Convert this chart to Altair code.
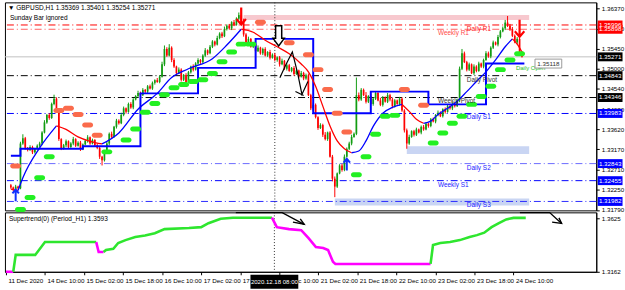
import altair as alt
import pandas as pd

# ---------------- data ----------------
first_open = 1.3235
closes = [
    1.3230, 1.3226, 1.3232, 1.3228, 1.3330, 1.3342, 1.3320, 1.3315, 1.3322, 1.3310,
    1.3318, 1.3325, 1.3330, 1.3355, 1.3378, 1.3395, 1.3388, 1.3420, 1.3432, 1.3405,
    1.3340, 1.3318, 1.3326, 1.3335, 1.3322, 1.3330, 1.3340, 1.3325, 1.3332, 1.3318,
    1.3328, 1.3336, 1.3344, 1.3330, 1.3338, 1.3326, 1.3320, 1.3300, 1.3292, 1.3310,
    1.3330, 1.3352, 1.3345, 1.3368, 1.3382, 1.3376, 1.3395, 1.3410, 1.3402, 1.3420,
    1.3412, 1.3430, 1.3438, 1.3445, 1.3440, 1.3452, 1.3448, 1.3460, 1.3455, 1.3468,
    1.3474, 1.3470, 1.3482, 1.3510, 1.3545, 1.3530, 1.3548, 1.3520, 1.3505, 1.3490,
    1.3498, 1.3475, 1.3486, 1.3470, 1.3492, 1.3505, 1.3498, 1.3512, 1.3520, 1.3515,
    1.3530, 1.3542, 1.3535, 1.3550, 1.3562, 1.3555, 1.3570, 1.3580, 1.3574, 1.3590,
    1.3598, 1.3592, 1.3606, 1.3600, 1.3614, 1.3622, 1.3610, 1.3578, 1.3560, 1.3568,
    1.3550, 1.3556, 1.3540, 1.3548, 1.3535, 1.3545, 1.3530, 1.3538, 1.3525, 1.3532,
    1.3520, 1.3526, 1.3510, 1.3518, 1.3500, 1.3508, 1.3495, 1.3502, 1.3488, 1.3496,
    1.3482, 1.3490, 1.3478, 1.3485, 1.3440, 1.3410, 1.3418, 1.3390, 1.3365, 1.3372,
    1.3350, 1.3340, 1.3355, 1.3300, 1.3250, 1.3232, 1.3262, 1.3280, 1.3270, 1.3300,
    1.3318, 1.3330, 1.3345, 1.3352, 1.3440, 1.3430, 1.3452, 1.3440, 1.3425, 1.3438,
    1.3420, 1.3432, 1.3445, 1.3428, 1.3418, 1.3435, 1.3425, 1.3440, 1.3430, 1.3415,
    1.3428, 1.3420, 1.3432, 1.3405, 1.3360, 1.3330, 1.3345, 1.3358, 1.3350, 1.3362,
    1.3355, 1.3368, 1.3362, 1.3375, 1.3370, 1.3385, 1.3380, 1.3395, 1.3400, 1.3392,
    1.3408, 1.3402, 1.3415, 1.3410, 1.3420, 1.3415, 1.3428, 1.3500, 1.3535, 1.3515,
    1.3498, 1.3510, 1.3490, 1.3505, 1.3495, 1.3512, 1.3505, 1.3520, 1.3535, 1.3528,
    1.3548, 1.3560, 1.3555, 1.3572, 1.3585, 1.3592, 1.3605, 1.3598, 1.3590, 1.3575,
    1.3560, 1.3568, 1.3537, 1.35271,
]
up_pips = [
    3, 2, 4, 2, 4, 9, 3, 2, 4, 3, 2, 3, 4, 3, 5, 2, 4, 3, 9, 3,
    4, 2, 3, 4, 2, 3, 5, 2, 3, 4, 2, 3, 5, 2, 3, 2, 4, 3, 2, 3,
    4, 3, 5, 2, 4, 3, 5, 4, 2, 3, 4, 3, 2, 5, 3, 4, 2, 3, 4, 3,
    2, 5, 3, 6, 8, 4, 8, 3, 4, 2, 5, 3, 2, 4, 3, 2, 5, 3, 4, 2,
    3, 5, 2, 4, 3, 2, 5, 3, 4, 6, 3, 4, 2, 5, 3, 6, 16, 4, 3, 5,
    2, 4, 3, 5, 2, 3, 4, 2, 5, 3, 4, 2, 3, 5, 2, 4, 3, 2, 4, 3,
    2, 5, 3, 4, 4, 3, 5, 3, 2, 4, 3, 6, 2, 3, 4, 5, 2, 3, 4, 5,
    3, 4, 5, 3, 40, 6, 4, 3, 7, 2, 5, 3, 4, 2, 6, 3, 2, 5, 3, 4,
    3, 2, 4, 3, 3, 4, 5, 2, 3, 4, 2, 3, 4, 3, 2, 3, 4, 2, 5, 3,
    2, 4, 3, 2, 4, 3, 4, 5, 10, 4, 3, 4, 2, 5, 3, 4, 2, 3, 5, 4,
    3, 4, 2, 5, 3, 4, 6, 15, 4, 5, 3, 4, 3, 3,
]
dn_pips = [
    3, 4, 2, 3, 2, 3, 4, 3, 2, 4, 3, 2, 3, 4, 2, 3, 4, 2, 3, 5,
    4, 3, 2, 4, 3, 2, 4, 3, 2, 5, 3, 2, 4, 3, 2, 4, 3, 5, 12, 3,
    2, 4, 3, 2, 4, 3, 2, 3, 4, 2, 3, 4, 2, 3, 4, 2, 3, 4, 2, 3,
    4, 2, 3, 2, 4, 3, 2, 5, 3, 4, 2, 4, 3, 5, 2, 3, 4, 2, 3, 4,
    2, 3, 4, 2, 3, 4, 2, 3, 4, 2, 3, 2, 4, 3, 2, 3, 4, 5, 3, 4,
    2, 3, 4, 2, 3, 4, 2, 3, 4, 2, 3, 4, 5, 2, 3, 4, 2, 3, 4, 2,
    3, 2, 4, 3, 2, 4, 6, 3, 4, 2, 5, 3, 4, 2, 6, 24, 3, 2, 4, 3,
    2, 3, 4, 2, 3, 4, 3, 2, 4, 3, 2, 4, 3, 2, 3, 4, 2, 3, 4, 5,
    3, 2, 4, 3, 5, 12, 3, 2, 4, 3, 2, 4, 3, 2, 4, 3, 2, 4, 3, 2,
    3, 4, 2, 3, 4, 3, 2, 4, 3, 2, 4, 3, 2, 4, 3, 2, 3, 4, 2, 3,
    4, 3, 2, 4, 3, 2, 4, 3, 4, 3, 2, 4, 3, 2,
]
last_ohlc = [1.35369, 1.35401, 1.35254, 1.35271]

# moving average (colored by slope): segments of (bar, value)
ma_segments = [
    ("dn", [(0, 1.3226), (3, 1.3223)]),
    ("up", [(3, 1.3223), (5, 1.3252), (12, 1.3320), (19, 1.3370)]),
    ("dn", [(19, 1.3370), (23, 1.3362), (28, 1.3345), (33, 1.3335), (38, 1.3329)]),
    ("up", [(38, 1.3329), (45, 1.3354), (53, 1.3408), (61, 1.3444), (67, 1.3480),
            (74, 1.3500), (84, 1.3523), (90, 1.3554), (96, 1.3590)]),
    ("dn", [(96, 1.3590), (101, 1.3583), (106, 1.3565), (111, 1.3550), (116, 1.3534),
            (121, 1.3511), (124, 1.3493), (127, 1.3460), (130, 1.3415), (133, 1.3370),
            (136, 1.3336), (139, 1.3318), (142, 1.3309)]),
    ("up", [(142, 1.3309), (145, 1.3313), (148, 1.3336), (151, 1.3369), (155, 1.3399),
            (159, 1.3412), (163, 1.3419)]),
    ("dn", [(163, 1.3419), (166, 1.3403), (169, 1.3385), (172, 1.3376)]),
    ("up", [(172, 1.3376), (175, 1.3381), (178, 1.3396), (182, 1.3410), (186, 1.3426),
            (190, 1.3448), (194, 1.3471), (198, 1.3493), (202, 1.3520), (206, 1.3550),
            (209, 1.3568)]),
    ("dn", [(209, 1.3568), (211, 1.3556), (213, 1.3538)]),
]

# daily step line
step_idx = [0, 4, 30, 54, 78, 102, 126, 150, 174, 198, 214]
step_val = [1.3302, 1.3318, 1.3324, 1.3444, 1.3502, 1.3568, 1.3399, 1.3448, 1.3419, 1.35118, 1.35118]

# supertrend dots on price chart
st_up_idx = [4, 8, 12, 16, 40, 48, 52, 56, 60, 64, 68, 72, 76, 80, 84, 88, 92, 96, 100,
             144, 148, 152, 156, 160, 176, 180, 184, 188, 192, 196, 200, 204, 208, 212]
st_up_val = [1.3180, 1.3207, 1.3252, 1.3300, 1.3311, 1.3338, 1.3363, 1.3401, 1.3421, 1.3441,
             1.3457, 1.3464, 1.3471, 1.3475, 1.3489, 1.3516, 1.3538, 1.3556, 1.3556,
             1.3259, 1.3300, 1.3351, 1.3392, 1.3394, 1.3331, 1.3354, 1.3376, 1.3392,
             1.3419, 1.3437, 1.3460, 1.3498, 1.3520, 1.3534]
st_dn_idx = [2, 20, 24, 28, 32, 36, 104, 116, 124, 128, 132, 136, 140, 164, 172]
st_dn_val = [1.3279, 1.3405, 1.3410, 1.3396, 1.3372, 1.3349, 1.3606, 1.3559, 1.3532,
             1.3498, 1.3453, 1.3399, 1.3356, 1.3453, 1.3417]

# pivot levels
level_names = ["Daily R1", "Weekly R1", "Daily Pivot", "Weekly Pivot",
               "Daily S1", "Daily S2", "Weekly S1", "Daily S3"]
level_prices = [1.35996, 1.35898, 1.34843, 1.34346, 1.33983, 1.32843, 1.32455, 1.31982]
bid_price = 1.35271

# zones (bar from, bar to, price low, price high)
zone_from = [97, 165, 135]
zone_to = [216, 216, 216]
zone_lo = [1.3611, 1.3306, 1.3189]
zone_hi = [1.3622, 1.3324, 1.3205]
zone_kind = ["res", "sup", "sup"]

price_ticks = [1.36370, 1.35910, 1.35450, 1.35000, 1.34540, 1.34080,
               1.33620, 1.33170, 1.32710, 1.32250, 1.31790]

tick_idx = [0, 16, 32, 48, 64, 80, 96, 112, 128, 144, 160, 176, 192, 208]
tick_labels = ["11 Dec 2020", "14 Dec 10:00", "15 Dec 02:00", "15 Dec 18:00",
               "16 Dec 10:00", "17 Dec 02:00", "17 Dec 18:00", "18 Dec 10:00",
               "21 Dec 02:00", "21 Dec 18:00", "22 Dec 10:00", "23 Dec 02:00",
               "23 Dec 18:00", "24 Dec 10:00"]
cross_idx = 110
cross_text = "2020.12.18 08:00"

# supertrend indicator window: segments (trend, [(bar, value)])
st_segments = [
    ("dn", [(0, 1.3162), (3, 1.3162)]),
    ("up", [(3, 1.3162), (4, 1.3308), (12, 1.3308), (16, 1.3419), (37, 1.3419)]),
    ("dn", [(37, 1.3419), (38, 1.3333), (40, 1.3333)]),
    ("up", [(40, 1.3333), (41, 1.3350), (44, 1.3360), (46, 1.3411), (49, 1.3436),
            (53, 1.3462), (57, 1.3475), (61, 1.3496), (65, 1.3531), (75, 1.3540),
            (80, 1.3548), (83, 1.3582), (88, 1.3620), (93, 1.3630), (109, 1.3630)]),
    ("dn", [(109, 1.3630), (111, 1.3548), (116, 1.3531), (121, 1.3522), (124, 1.3453),
            (127, 1.3376), (130, 1.3368), (132, 1.3350), (134, 1.3248), (135, 1.3230),
            (174, 1.3230)]),
    ("up", [(174, 1.3230), (175, 1.3393), (178, 1.3411), (182, 1.3419), (186, 1.3436),
            (190, 1.3462), (193, 1.3479), (196, 1.3500), (199, 1.3548), (202, 1.3582),
            (205, 1.3615), (208, 1.3628), (213, 1.3628)]),
]
st_title = "Supertrend(0) (Period_H1) 1.3593"
header = "\u25bc GBPUSD,H1  1.35369 1.35401 1.35254 1.35271"
subheader = "Sunday Bar ignored"

# ---------------- styling ----------------
W, H_MAIN, H_LOW = 597, 210, 60
FONT = "Liberation Sans"
FS = 6.3
BULL, BEAR = "#129C12", "#FF0000"
MA_COL = {"up": "#0000FF", "dn": "#FF0000"}
ST_COL = {"up": "#2EE62E", "dn": "#FF00FF"}
LEVEL_LINE = ["#FF0000", "#FF6060", "#000000", "#000000", "#0000FF", "#6A6AFF", "#0000FF", "#2A2AFF"]
LEVEL_TEXT = ["#FF1A1A", "#FF4A4A", "#333333", "#333333", "#2323FF", "#2323FF", "#2323FF", "#2323FF"]
LEVEL_BOX = ["#FF0000", "#FF0000", "#000000", "#000000", "#0000FF", "#0000FF", "#0000FF", "#0000FF"]

xscale = alt.Scale(domain=[-0.4, 241.9], nice=False, zero=False)
ymain = alt.Scale(domain=[1.31779, 1.36510], nice=False, zero=False)
ylow = alt.Scale(domain=[1.3162, 1.3676], nice=False, zero=False)

main_axis = alt.Axis(orient="right", values=price_ticks, format=".5f", labelFont=FONT,
                     labelFontSize=FS, labelColor="#000", tickColor="#000", tickSize=3,
                     domainColor="#000", labelPadding=2, grid=False, title=None,
                     labelOverlap=False)
low_axis = alt.Axis(orient="right", values=[1.3625, 1.3162], format=".4f", labelFont=FONT,
                    labelFontSize=FS, labelColor="#000", tickColor="#000", tickSize=3,
                    domainColor="#000", labelPadding=2, grid=False, title=None,
                    labelOverlap=False)
label_expr = "[" + ",".join("'%s'" % s for s in tick_labels) + "][round(datum.value/16)]"
x_axis = alt.Axis(values=tick_idx, labelExpr=label_expr, labelAlign="left", labelFont=FONT,
                  labelFontSize=FS, labelColor="#000", tickColor="#000", tickSize=3,
                  domainColor="#000", labelPadding=3, labelOffset=2, grid=False,
                  title=None, labelOverlap=False, labelFlush=False, labelBound=False)


def MX(f):
    return alt.X(f, type="quantitative", scale=xscale, axis=None)


def MY(f):
    return alt.Y(f, type="quantitative", scale=ymain, axis=main_axis)


def LX(f):
    return alt.X(f, type="quantitative", scale=xscale, axis=x_axis)


def LY(f):
    return alt.Y(f, type="quantitative", scale=ylow, axis=low_axis)


# ---------------- frames ----------------
n = min(len(closes), len(up_pips), len(dn_pips))
rows = []
prev = first_open
for k in range(n):
    o, c = prev, closes[k]
    h = max(o, c) + up_pips[k] / 10000.0
    l = min(o, c) - dn_pips[k] / 10000.0
    if k == n - 1:
        o, h, l, c = last_ohlc
    rows.append(dict(i=k, o=o, h=h, l=l, c=c, col=BULL if c >= o else BEAR))
    prev = c
cdf = pd.DataFrame(rows)

ma_rows = []
for s, (d, pts) in enumerate(ma_segments):
    for (bi, v) in pts:
        ma_rows.append(dict(i=bi, v=v, seg=s, col=MA_COL[d]))
madf = pd.DataFrame(ma_rows)

stepdf = pd.DataFrame({"i": step_idx, "v": step_val})
dots = pd.DataFrame({
    "i": st_up_idx + st_dn_idx,
    "v": st_up_val + st_dn_val,
    "col": ["#22F022"] * len(st_up_idx) + ["#FA6B4C"] * len(st_dn_idx),
})

levels = pd.DataFrame({"name": level_names, "p": level_prices,
                       "lc": LEVEL_LINE, "tc": LEVEL_TEXT})
levels["li"] = [178 if nm.startswith("Weekly") else 190 for nm in level_names]

boxes = pd.DataFrame({"p": level_prices + [bid_price], "bc": LEVEL_BOX + ["#000000"]})
boxes["lbl"] = ["%.5f" % p for p in boxes["p"]]

zones = pd.DataFrame({"i0": zone_from, "i1": zone_to, "v0": zone_lo, "v1": zone_hi,
                      "col": ["#F7C8CE" if z == "res" else "#C9D5F3" for z in zone_kind]})

crossdf = pd.DataFrame({"i": [cross_idx], "t": [cross_text]})
biddf = pd.DataFrame({"p": [bid_price]})

# ---------------- main panel ----------------
zone_l = alt.Chart(zones).mark_rect().encode(
    x=MX("i0"), x2="i1", y=MY("v0"), y2="v1", color=alt.Color("col:N", scale=None))
lvl_l = alt.Chart(levels).mark_rule(strokeDash=[7, 3, 1, 3], strokeWidth=1).encode(
    y=MY("p"), color=alt.Color("lc:N", scale=None))
bid_l = alt.Chart(biddf).mark_rule(color="#C0C0C0", strokeWidth=1).encode(y=MY("p"))
cross_l = alt.Chart(crossdf).mark_rule(color="#333333", strokeDash=[1, 2], strokeWidth=1).encode(
    x=MX("i"))
wick_l = alt.Chart(cdf).mark_rule(strokeWidth=1).encode(
    x=MX("i"), y=MY("l"), y2="h", color=alt.Color("col:N", scale=None))
body_l = alt.Chart(cdf).mark_bar(size=1.7).encode(
    x=MX("i"), y=MY("o"), y2="c", color=alt.Color("col:N", scale=None))
step_l = alt.Chart(stepdf).mark_line(interpolate="step-after", strokeWidth=2, color="#0000FF").encode(
    x=MX("i"), y=MY("v"))
ma_l = alt.Chart(madf).mark_line(strokeWidth=1.3, interpolate="monotone").encode(
    x=MX("i"), y=MY("v"), detail="seg:N", color=alt.Color("col:N", scale=None))
dot_l = alt.Chart(dots).mark_tick(orient="horizontal", size=11, thickness=5, cornerRadius=2.5,
                                  opacity=1).encode(
    x=MX("i"), y=MY("v"), color=alt.Color("col:N", scale=None))
lvl_txt = alt.Chart(levels).mark_text(align="left", baseline="top", dy=1, font=FONT, fontSize=6.5).encode(
    x=MX("li"), y=MY("p"), text="name:N", color=alt.Color("tc:N", scale=None))

# arrows
DOWN_ARROW = "M 0 -1 L 0 1 M -0.55 0.35 L 0 1 L 0.55 0.35"
UP_ARROW = "M 0 1 L 0 -1 M -0.55 -0.35 L 0 -1 L 0.55 -0.35"
HOLLOW_DOWN = "M -0.3 -1 L 0.3 -1 L 0.3 0.25 L 0.55 0.25 L 0 1 L -0.55 0.25 L -0.3 0.25 Z"
sell_arrows = pd.DataFrame({"i": [96, 212], "v": [1.3620, 1.3592]})
buy_arrows = pd.DataFrame({"i": [2, 140], "v": [1.3212, 1.3282]})
hollow = pd.DataFrame({"i": [111.6], "v": [1.3575]})
sell_l = alt.Chart(sell_arrows).mark_point(shape=DOWN_ARROW, size=300, strokeWidth=2.2, opacity=1,
                                           color="#FF0000", filled=False).encode(x=MX("i"), y=MY("v"))
buy_l = alt.Chart(buy_arrows).mark_point(shape=UP_ARROW, size=140, strokeWidth=2, opacity=1,
                                         color="#1030FF", filled=False).encode(x=MX("i"), y=MY("v"))
hollow_l = alt.Chart(hollow).mark_point(shape=HOLLOW_DOWN, size=420, strokeWidth=1.5,
                                        stroke="#000000", fill="#FFFFFF", filled=True,
                                        opacity=1).encode(x=MX("i"), y=MY("v"))
draw_pts = pd.DataFrame({
    "i": [112.1, 114.5, 117.3, 119.5, 121.3, 123.8, 118.6, 122.0],
    "v": [1.34798, 1.35080, 1.35384, 1.34900, 1.34415, 1.34708, 1.34483, 1.34392],
    "g": [0, 0, 0, 0, 0, 0, 1, 1],
    "o": [0, 1, 2, 3, 4, 5, 0, 1],
})
draw_l = alt.Chart(draw_pts).mark_line(color="#000000", strokeWidth=1.2).encode(
    x=MX("i"), y=MY("v"), detail="g:N", order="o:Q")

# right price boxes
box_l = alt.Chart(boxes).mark_tick(orient="horizontal", size=25, thickness=9, opacity=1).encode(
    x=alt.value(611), y=MY("p"), color=alt.Color("bc:N", scale=None))
box_t = alt.Chart(boxes).mark_text(align="center", baseline="middle", font=FONT, fontSize=FS,
                                   color="#FFFFFF").encode(x=alt.value(611), y=MY("p"), text="lbl:N")

# daily open tag
open_df = pd.DataFrame({"i": [224], "li": [210.5], "v": [step_val[-1]],
                        "lbl": ["%.5f" % step_val[-1]], "nm": ["Daily Open"]})
open_txt = alt.Chart(open_df).mark_text(align="left", baseline="top", dy=1, font=FONT, fontSize=6,
                                        color="#18C018").encode(x=MX("li"), y=MY("v"), text="nm:N")
open_box = alt.Chart(open_df).mark_tick(orient="horizontal", size=27, thickness=9, color="#FFFFFF",
                                        stroke="#9A9A9A", strokeWidth=1, opacity=1).encode(
    x=MX("i"), y=MY("v"))
open_lbl = alt.Chart(open_df).mark_text(align="center", baseline="middle", font=FONT, fontSize=FS,
                                        color="#333333").encode(x=MX("i"), y=MY("v"), text="lbl:N")

head_l = alt.Chart(pd.DataFrame({"t": [header]})).mark_text(
    align="left", baseline="middle", font=FONT, fontSize=6.6, color="#000").encode(
    x=alt.value(3), y=alt.value(6), text="t:N")
sub_l = alt.Chart(pd.DataFrame({"t": [subheader]})).mark_text(
    align="left", baseline="middle", font=FONT, fontSize=6.6, color="#000").encode(
    x=alt.value(5), y=alt.value(16), text="t:N")

main = alt.layer(
    zone_l, lvl_l, bid_l, cross_l, wick_l, body_l, step_l, ma_l, dot_l, draw_l,
    sell_l, buy_l, hollow_l, lvl_txt, open_txt, open_box, open_lbl, head_l, sub_l,
    box_l, box_t,
).properties(width=W, height=H_MAIN)

# ---------------- indicator panel ----------------
st_rows = []
for s, (d, pts) in enumerate(st_segments):
    for (bi, v) in pts:
        st_rows.append(dict(i=bi, v=v, seg=s, col=ST_COL[d]))
stdf = pd.DataFrame(st_rows)

st_l = alt.Chart(stdf).mark_line(strokeWidth=2.6).encode(
    x=LX("i"), y=LY("v"), detail="seg:N", color=alt.Color("col:N", scale=None))
cross2_l = alt.Chart(crossdf).mark_rule(color="#333333", strokeDash=[1, 2], strokeWidth=1).encode(
    x=LX("i"))
ann = pd.DataFrame({
    "i": [94.2, 113.2, 122.2, 117.6, 122.2, 120.6,
          210.6, 222.8, 227.7, 223.8, 227.7, 226.6],
    "v": [1.3674, 1.3674, 1.3573, 1.3592, 1.3573, 1.3620,
          1.3674, 1.3674, 1.3580, 1.3592, 1.3580, 1.3628],
    "g": [0, 0, 0, 1, 1, 1, 2, 2, 2, 3, 3, 3],
    "o": [0, 1, 2, 0, 1, 2, 0, 1, 2, 0, 1, 2],
})
ann_l = alt.Chart(ann).mark_line(color="#000000", strokeWidth=1.4).encode(
    x=LX("i"), y=LY("v"), detail="g:N", order="o:Q")
st_txt = alt.Chart(pd.DataFrame({"t": [st_title]})).mark_text(
    align="left", baseline="middle", font=FONT, fontSize=6.6, color="#000").encode(
    x=alt.value(4), y=alt.value(7), text="t:N")
cbox = crossdf.assign(x0=cross_idx - 9.8, x1=cross_idx + 9.8)
cbox_l = alt.Chart(cbox).mark_rect(color="#000000").encode(
    x=LX("x0"), x2="x1", y=alt.value(63), y2=alt.value(77))
ctext_l = alt.Chart(cbox).mark_text(align="center", baseline="middle", font=FONT, fontSize=6.1,
                                    color="#FFFFFF").encode(x=LX("i"), y=alt.value(70), text="t:N")

lower = alt.layer(cross2_l, st_l, ann_l, st_txt, cbox_l, ctext_l).properties(width=W, height=H_LOW)

chart = alt.vconcat(main, lower, spacing=2, bounds="flush").properties(
    padding={"left": 0, "top": 0, "right": 0, "bottom": 0},
    background="#FFFFFF",
).configure_view(stroke="#000000", strokeWidth=1)

chart.save("out.html", embed_options={"renderer": "svg", "actions": False})
